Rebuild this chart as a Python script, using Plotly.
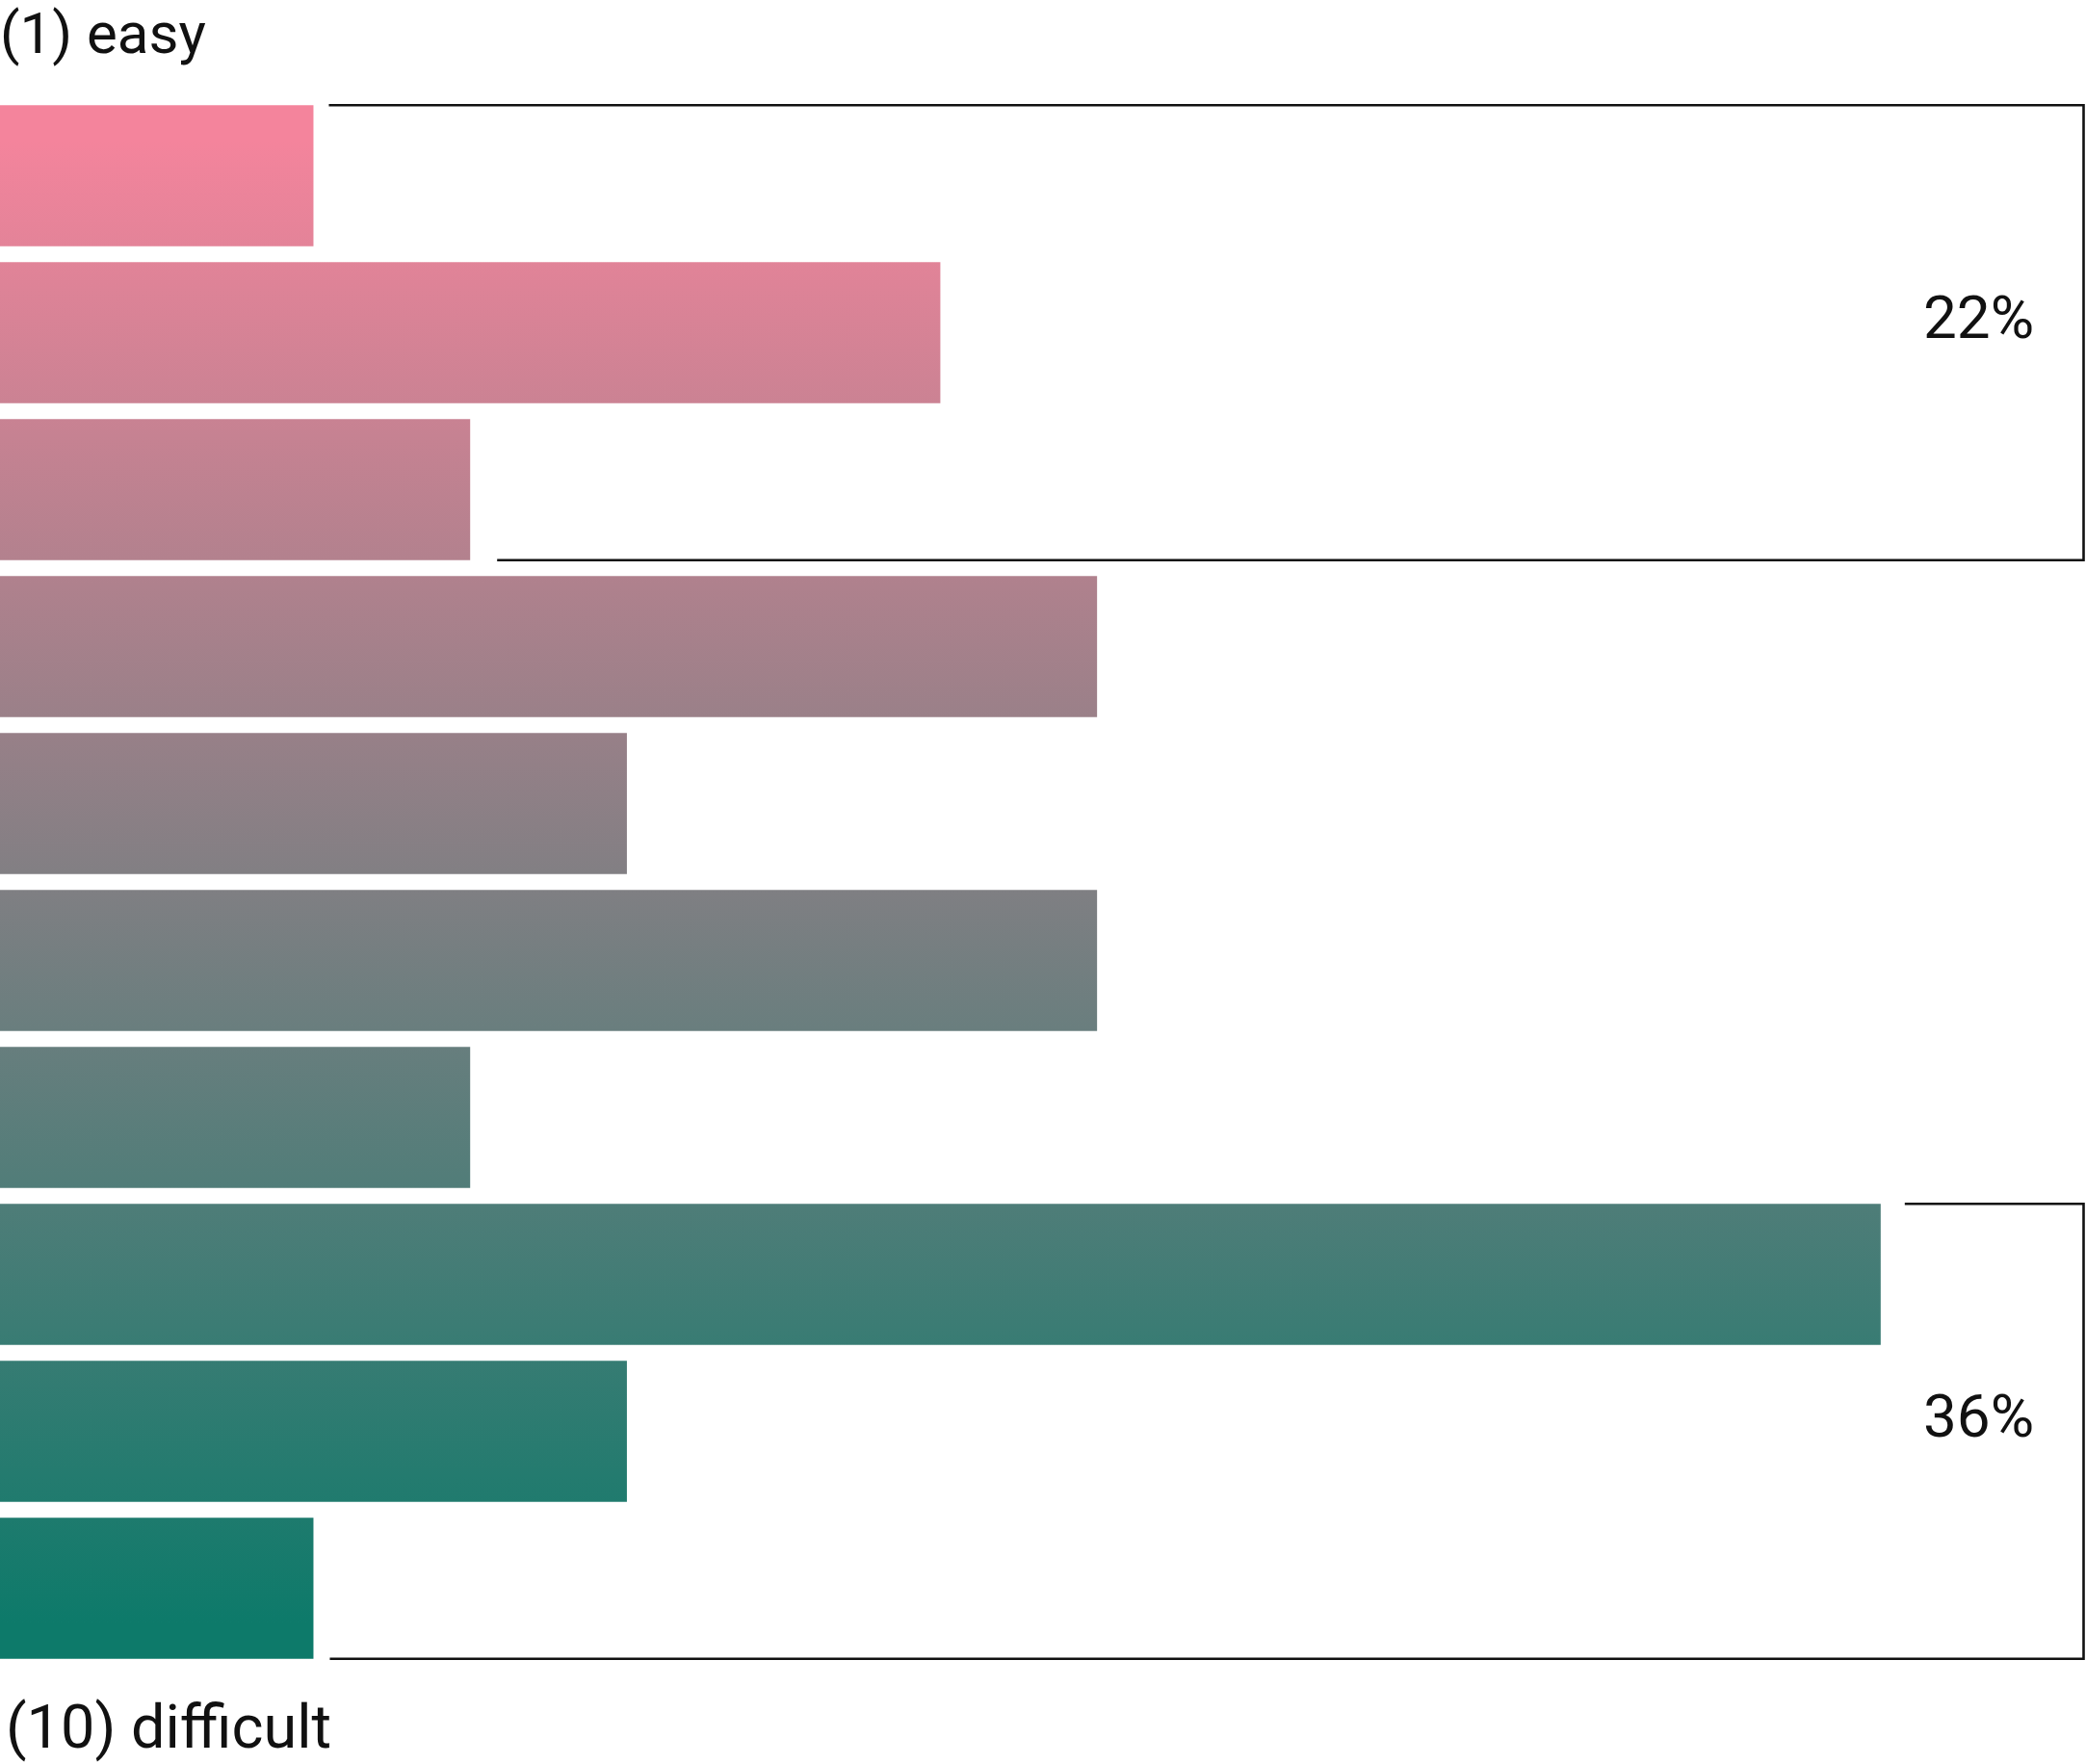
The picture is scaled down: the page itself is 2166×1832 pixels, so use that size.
import plotly.graph_objects as go

# Share of responses for each difficulty rating, (1) easy at the top to (10) difficult at the bottom
ratings = ["1", "2", "3", "4", "5", "6", "7", "8", "9", "10"]
shares = [4, 12, 6, 14, 8, 14, 6, 24, 8, 4]

# Groups summarised by a bracket on the right
easy_group = [0, 1, 2]
hard_group = [7, 8, 9]

top_label = "(1) easy"
bottom_label = "(10) difficult"

PINK = "#F4849C"
TEAL = "#0D7A6A"
BAR_H = 0.898          # bar thickness as a fraction of the row pitch
X_MAX = 26.62          # visible extent of the value axis
PX_PER_UNIT = 2166 / X_MAX
FONT = "Roboto, Open Sans, sans-serif"

fig = go.Figure()

y_first = -BAR_H / 4
y_last = len(shares) - 1 + BAR_H / 4

# Each bar is a filled rectangle sharing one vertical gradient that runs down
# the whole stack of bars, pink at the top and teal at the bottom
for i, v in enumerate(shares):
    y0, y1 = i - BAR_H / 2, i + BAR_H / 2
    fig.add_trace(go.Scatter(
        x=[0, v, v, 0, 0],
        y=[y0, y0, y1, y1, y0],
        mode="lines",
        line=dict(width=0),
        fill="toself",
        fillgradient=dict(
            type="vertical",
            colorscale=[[0, PINK], [1, TEAL]],
            start=y_first,
            stop=y_last,
        ),
        name=ratings[i],
        hoverinfo="skip",
        showlegend=False,
    ))

def gap(px):
    return px / PX_PER_UNIT

X_RIGHT = X_MAX - gap(2.5)

def bracket(rows, gap_top, gap_bottom):
    first, last = rows[0], rows[-1]
    y_top = first - BAR_H / 2
    y_bot = last + BAR_H / 2
    x_top = shares[first] + gap(gap_top)
    x_bot = shares[last] + gap(gap_bottom)
    fig.add_trace(go.Scatter(
        x=[x_top, X_RIGHT, X_RIGHT, x_bot],
        y=[y_top, y_top, y_bot, y_bot],
        mode="lines",
        line=dict(color="#111111", width=2.6),
        hoverinfo="skip",
        showlegend=False,
    ))
    total = sum(shares[r] for r in rows)
    fig.add_annotation(
        x=X_RIGHT, y=(y_top + y_bot) / 2,
        xref="x", yref="y",
        text=f"{total}%",
        showarrow=False,
        xanchor="right", yanchor="middle",
        xshift=-50, yshift=16,
        font=dict(family=FONT, size=62, color="#111111"),
    )

bracket(easy_group, 16, 28)
bracket(hard_group, 25, 17)

fig.add_annotation(
    x=0, y=1, xref="paper", yref="paper",
    text=top_label, showarrow=False,
    xanchor="left", yanchor="top",
    xshift=-2, yshift=3,
    font=dict(family=FONT, size=60, color="#111111"),
)
fig.add_annotation(
    x=0, y=0, xref="paper", yref="paper",
    text=bottom_label, showarrow=False,
    xanchor="left", yanchor="bottom",
    xshift=4, yshift=0,
    font=dict(family=FONT, size=63, color="#111111"),
)

pitch_px = 163.0
center0_px = 182.5
fig.update_layout(
    width=2166,
    height=1832,
    margin=dict(l=0, r=0, t=0, b=0),
    paper_bgcolor="white",
    plot_bgcolor="white",
    xaxis=dict(range=[0, X_MAX], visible=False, fixedrange=True),
    yaxis=dict(
        range=[(1832 - center0_px) / pitch_px, -center0_px / pitch_px],
        visible=False, fixedrange=True,
    ),
)

fig.write_html("out.html")
